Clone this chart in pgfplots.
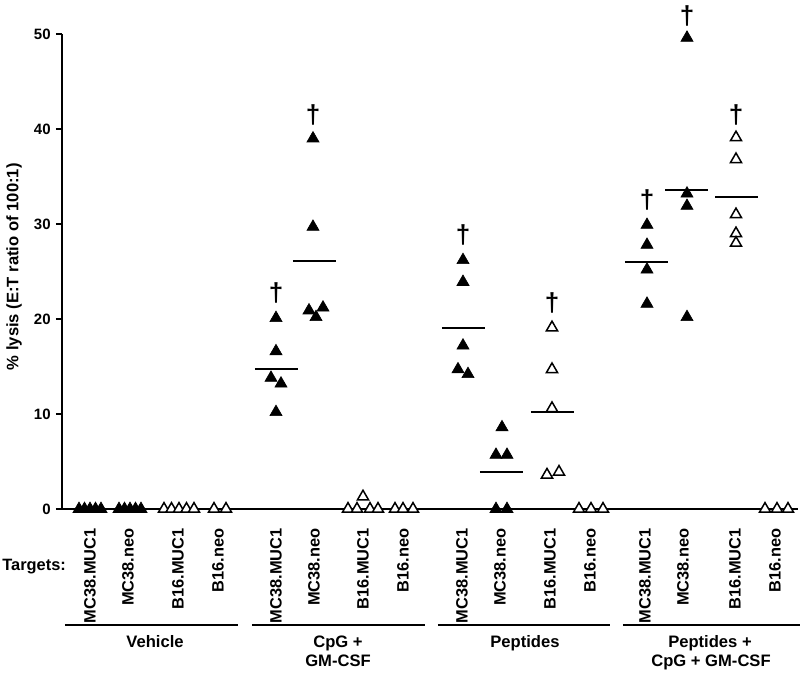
\documentclass[border=0pt]{standalone}
\usepackage{pgfplots}
\pgfplotsset{compat=1.18}
\usepackage{fontspec}
\setmainfont{Liberation Sans}

\begin{document}
\begin{tikzpicture}
\begin{axis}[
 x=0.5pt, y=4.75pt,
 xmin=62, xmax=798, ymin=0, ymax=50,
 axis x line=bottom, axis y line=left,
 axis line style={line width=1pt, -},
 ytick={0,10,...,50},
 tick align=outside,
 major tick length=3pt,
 tick style={line width=1pt, black},
 xtick={90,128,178,218,276,314,363,403,462,500,550,590,645,683,735,775},
 xticklabels={MC38.MUC1,MC38.neo,B16.MUC1,B16.neo,MC38.MUC1,MC38.neo,B16.MUC1,B16.neo,MC38.MUC1,MC38.neo,B16.MUC1,B16.neo,MC38.MUC1,MC38.neo,B16.MUC1,B16.neo},
 x tick style={draw=none},
 xticklabel style={yshift=-6.5pt, rotate=90, anchor=east, inner sep=0pt, font=\bfseries\fontsize{8.2}{10}\selectfont},
 yticklabel style={font=\bfseries\fontsize{7.5}{9}\selectfont, inner sep=0pt, xshift=-2.5pt},
 /pgf/number format/assume math mode=true,
 ylabel={\% lysis (E:T ratio of 100:1)},
 every axis y label/.style={at={(axis description cs:-0.0652,0.51)}, rotate=90, anchor=center, font=\bfseries\fontsize{8.3}{10}\selectfont},
 clip=false,
 filled/.style={only marks, mark=triangle*, mark size=3.5pt, mark options={fill=black, draw=black, line width=0.3pt}},
 open/.style={only marks, mark=triangle*, mark size=3.2pt, mark options={fill=white, draw=black, line width=0.75pt}},
 meanline/.style={black, line width=1pt, no markers},
]
% Vehicle
\addplot[filled] coordinates {(79,0)(84.5,0)(90,0)(95.5,0)(101,0)};
\addplot[filled] coordinates {(119,0)(124.5,0)(130,0)(135.5,0)(141,0)};
\addplot[open] coordinates {(164,0)(171.5,0)(179,0)(186.5,0)(194,0)};
\addplot[open] coordinates {(214,0)(226,0)};
% CpG + GM-CSF
\addplot[filled] coordinates {(276,20.1)(276,16.6)(271,13.8)(281,13.2)(276,10.2)};
\addplot[filled] coordinates {(313,39.0)(313,29.7)(309,20.9)(323,21.2)(316,20.2)};
\addplot[open] coordinates {(348,0)(357,0)(370,0)(378,0)(363,1.3)};
\addplot[open] coordinates {(395,0)(403,0)(413,0)};
% Peptides
\addplot[filled] coordinates {(463,26.2)(463,23.9)(463,17.2)(458,14.7)(468,14.2)};
\addplot[filled] coordinates {(502,8.6)(496,5.7)(507,5.7)(496,0)(507,0)};
\addplot[open] coordinates {(552,19.1)(552,14.7)(552,10.6)(547,3.6)(559,3.9)};
\addplot[open] coordinates {(579,0)(591,0)(603,0)};
% Peptides + CpG + GM-CSF
\addplot[filled] coordinates {(647,29.9)(647,27.8)(647,25.2)(647,21.6)};
\addplot[filled] coordinates {(687,49.6)(687,33.2)(687,31.9)(687,20.2)};
\addplot[open] coordinates {(736,39.1)(736,36.8)(736,31.0)(736,29.0)(736,28.0)};
\addplot[open] coordinates {(765,0)(777,0)(788,0)};
% means
\addplot[meanline] coordinates {(255,14.7)(298,14.7)};
\addplot[meanline] coordinates {(293,26.1)(336,26.1)};
\addplot[meanline] coordinates {(442,19.1)(485,19.1)};
\addplot[meanline] coordinates {(480,3.9)(523,3.9)};
\addplot[meanline] coordinates {(531,10.2)(574,10.2)};
\addplot[meanline] coordinates {(625,26.0)(668,26.0)};
\addplot[meanline] coordinates {(665,33.6)(708,33.6)};
\addplot[meanline] coordinates {(715,32.8)(758,32.8)};
% daggers
\foreach \xx/\yy in {276/22.75, 313/41.45, 463/28.8, 552/21.65, 647/32.5, 687/51.95, 736/41.45} {
  \edef\temp{\noexpand\node[font=\noexpand\bfseries\noexpand\fontsize{13}{13}\noexpand\selectfont, inner sep=0pt] at (axis cs:\xx,\yy) {†};}
  \temp
}
% bottom annotation
\node[anchor=west, inner sep=0pt, font=\bfseries\fontsize{8.2}{10}\selectfont] at (axis cs:2,-6.1) {Targets:};
\draw[line width=1pt] (axis cs:65,-12.2) -- (axis cs:238,-12.2);
\draw[line width=1pt] (axis cs:252,-12.2) -- (axis cs:425,-12.2);
\draw[line width=1pt] (axis cs:438,-12.2) -- (axis cs:610,-12.2);
\draw[line width=1pt] (axis cs:623,-12.2) -- (axis cs:800,-12.2);
\node[anchor=base, inner sep=0pt, font=\bfseries\fontsize{8.3}{10}\selectfont] at (axis cs:155,-14.53) {Vehicle};
\node[anchor=base, inner sep=0pt, font=\bfseries\fontsize{8.3}{10}\selectfont] at (axis cs:338,-14.53) {CpG +};
\node[anchor=base, inner sep=0pt, font=\bfseries\fontsize{8.3}{10}\selectfont] at (axis cs:338,-16.63) {GM-CSF};
\node[anchor=base, inner sep=0pt, font=\bfseries\fontsize{8.3}{10}\selectfont] at (axis cs:525,-14.53) {Peptides};
\node[anchor=base, inner sep=0pt, font=\bfseries\fontsize{8.3}{10}\selectfont] at (axis cs:710,-14.53) {Peptides +};
\node[anchor=base, inner sep=0pt, font=\bfseries\fontsize{8.3}{10}\selectfont] at (axis cs:711,-16.63) {CpG + GM-CSF};
\coordinate (bbbl) at (axis cs:0,-17.16);
\coordinate (bbtr) at (axis cs:800,53.58);
\end{axis}
\pgfresetboundingbox
\useasboundingbox (bbbl) rectangle (bbtr);
\end{tikzpicture}
\end{document}
